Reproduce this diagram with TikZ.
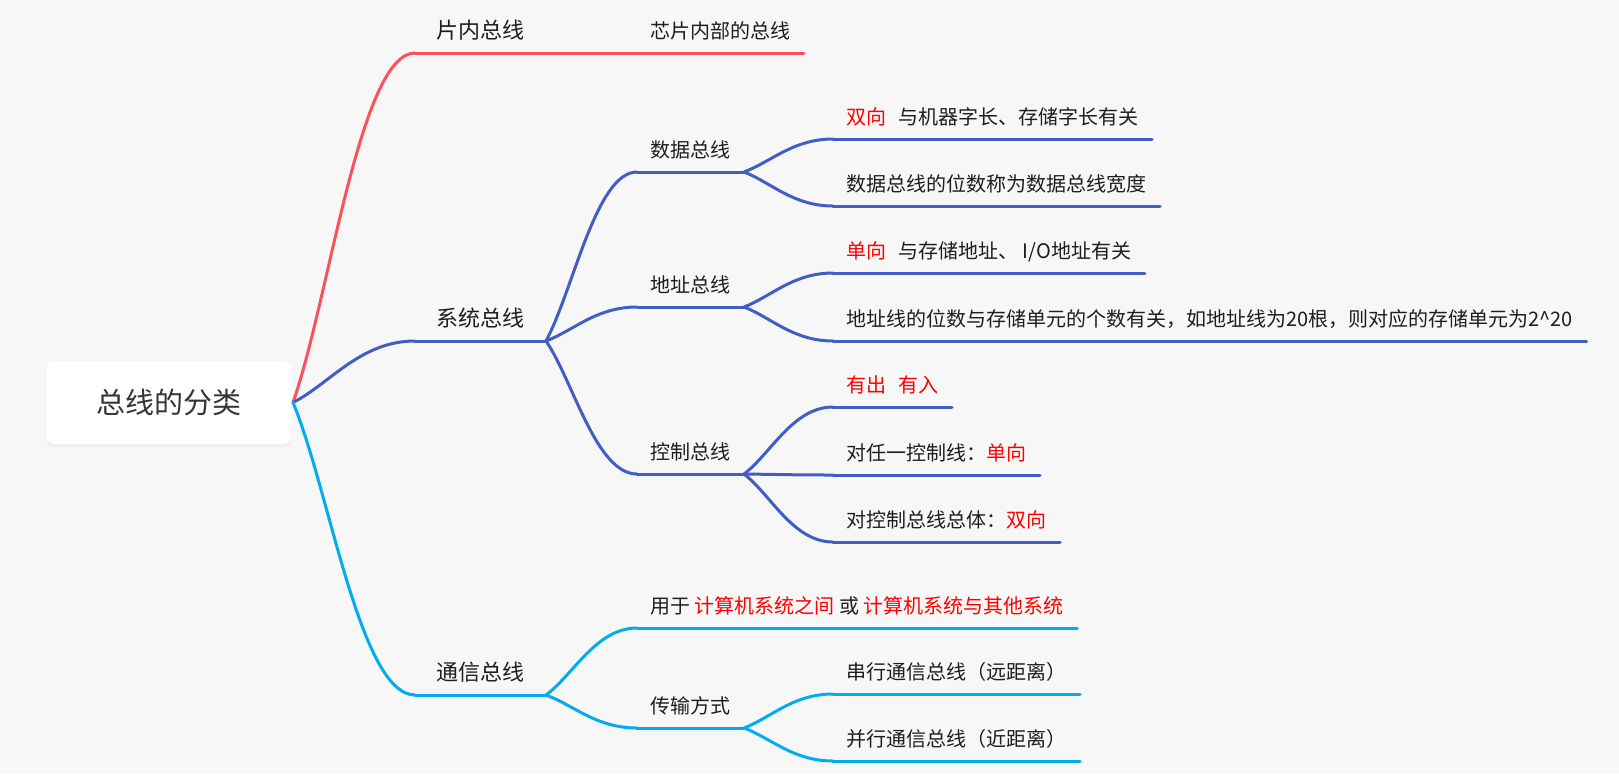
\documentclass[tikz,border=0pt]{standalone}
\usepackage{fontspec}
\setmainfont{Noto Sans CJK SC}
\usetikzlibrary{calc,shadows}
\definecolor{cred}{RGB}{250,82,90}
\definecolor{cblue}{RGB}{64,94,196}
\definecolor{ccyan}{RGB}{2,172,238}
\definecolor{cbg}{RGB}{247,247,247}
\definecolor{ctext}{RGB}{30,30,30}
\definecolor{chl}{RGB}{255,0,0}
\newcommand{\redtxt}[1]{\textcolor{chl}{#1}}

\begin{document}
\begin{tikzpicture}[x=0.5pt,y=-0.5pt,line width=1.5pt,line cap=round,
  root node/.style={rectangle,rounded corners=4pt,fill=white,text=ctext!90,
    minimum width=122.5pt,minimum height=41.5pt,font=\fontsize{14.5pt}{17pt}\selectfont,
    drop shadow={opacity=0.07,shadow xshift=0pt,shadow yshift=-1.5pt}},
  main node/.style={anchor=south west,inner xsep=10pt,inner ysep=6.3pt,text depth=0pt,
    text=ctext,font=\fontsize{11pt}{13pt}\selectfont},
  sub node/.style={anchor=south west,inner xsep=6pt,inner ysep=6.7pt,text depth=0pt,
    text=ctext,font=\fontsize{10pt}{12pt}\selectfont},
  branch/.style={to path={let \p1=(\tikztostart),\p2=(\tikztotarget) in
    .. controls ({\x1+0.3*(\x2-\x1)},{\y1+0.3*(\y2-\y1)}) and ({\x1+0.55*(\x2-\x1)},\y2) .. (\tikztotarget)}}]
  \fill[cbg] (0,0) rectangle (1619,773);
  \useasboundingbox (0,0) rectangle (1619,773);

  \node[root node] (root) at (169,402.5) {总线的分类};
  \node[main node] (pian) at (415,53) {片内总线};
  \node[main node] (xitong) at (415,341) {系统总线};
  \node[main node] (tongxin) at (415,695) {通信总线};

  \node[sub node] (xinpian) at (637,53) {芯片内部的总线};
  \node[sub node] (shuju) at (637,172) {数据总线};
  \node[sub node] (dizhi) at (637,307) {地址总线};
  \node[sub node] (kongzhi) at (637,474) {控制总线};
  \node[sub node] (yongyu) at (637,628) {用于 \redtxt{计算机系统之间} 或 \redtxt{计算机系统与其他系统}};
  \node[sub node] (chuanshu) at (637,728) {传输方式};

  \node[sub node] (shuang) at (833,139) {\redtxt{双向}\hspace{0.6em}与机器字长、存储字长有关};
  \node[sub node] (kuandu) at (833,206) {数据总线的位数称为数据总线宽度};
  \node[sub node] (dan) at (833,273) {\redtxt{单向}\hspace{0.6em}与存储地址、 I/O地址有关};
  \node[sub node] (weishu) at (833,341) {地址线的位数与存储单元的个数有关，如地址线为20根，则对应的存储单元为2\textasciicircum 20};
  \node[sub node] (churu) at (833,407) {\redtxt{有出\hspace{0.6em}有入}};
  \node[sub node] (renyi) at (833,475) {对任一控制线：\redtxt{单向}};
  \node[sub node] (zongti) at (833,542) {对控制总线总体：\redtxt{双向}};
  \node[sub node] (chuanxing) at (833,694) {串行通信总线（远距离）};
  \node[sub node] (bingxing) at (833,761) {并行通信总线（近距离）};

  % underlines
  \foreach \n in {pian,xinpian}
    \draw[cred] (\n.south west) -- (\n.south east);
  \foreach \n in {xitong,shuju,dizhi,kongzhi,shuang,kuandu,dan,weishu,churu,renyi,zongti}
    \draw[cblue] (\n.south west) -- (\n.south east);
  \foreach \n in {tongxin,yongyu,chuanshu,chuanxing,bingxing}
    \draw[ccyan] (\n.south west) -- (\n.south east);

  % branches
  \draw[cred]
    (root.east) edge[branch] (pian.south west)
    (pian.south east) edge[branch] (xinpian.south west);
  \draw[cblue]
    (root.east) edge[branch] (xitong.south west)
    (xitong.south east) edge[branch] (shuju.south west)
    (xitong.south east) edge[branch] (dizhi.south west)
    (xitong.south east) edge[branch] (kongzhi.south west)
    (shuju.south east) edge[branch] (shuang.south west)
    (shuju.south east) edge[branch] (kuandu.south west)
    (dizhi.south east) edge[branch] (dan.south west)
    (dizhi.south east) edge[branch] (weishu.south west)
    (kongzhi.south east) edge[branch] (churu.south west)
    (kongzhi.south east) edge[branch] (renyi.south west)
    (kongzhi.south east) edge[branch] (zongti.south west);
  \draw[ccyan]
    (root.east) edge[branch] (tongxin.south west)
    (tongxin.south east) edge[branch] (yongyu.south west)
    (tongxin.south east) edge[branch] (chuanshu.south west)
    (chuanshu.south east) edge[branch] (chuanxing.south west)
    (chuanshu.south east) edge[branch] (bingxing.south west);
\end{tikzpicture}
\end{document}
